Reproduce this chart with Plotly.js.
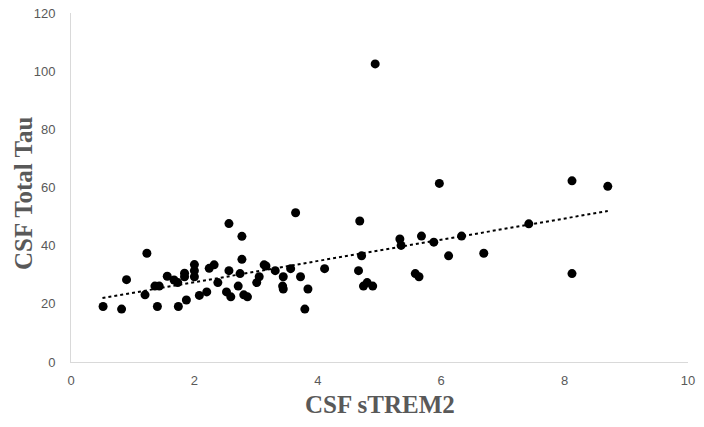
<!DOCTYPE html>
<html>
<head>
<meta charset="utf-8">
<script src="https://cdn.plot.ly/plotly-3.0.1.min.js"></script>
<style>
  html, body { margin: 0; padding: 0; background: #fff; }
  #chart { width: 704px; height: 427px; }
</style>
</head>
<body>
<div id="chart"></div>
<script>
// CSF sTREM2 vs CSF Total Tau, one point per subject
var strem2 = [
  0.52, 0.82, 0.90, 1.23, 1.20, 1.36, 1.43, 1.40, 1.56, 1.67,
  1.73, 1.74, 1.84, 1.84, 1.87, 2.00, 2.00, 2.00, 2.08, 2.20,
  2.24, 2.32, 2.38, 2.52, 2.59, 2.56, 2.77, 2.77, 2.74, 2.71,
  2.80, 2.86, 3.01, 3.05, 3.13, 3.16, 3.31, 3.44, 3.43, 3.44,
  3.56, 3.72, 3.84, 3.79, 4.11, 4.66, 4.71, 4.74, 4.80, 4.89,
  5.33, 5.35, 5.58, 5.64, 5.68, 5.88, 6.12, 6.33, 8.12, 8.70,
  7.42, 6.69, 8.12, 4.93, 2.56, 3.64, 4.68, 5.97
];

var totalTau = [
  19.1, 18.2, 28.3, 37.4, 23.1, 26.1, 26.1, 19.1, 29.5, 28.2,
  27.3, 19.1, 30.5, 29.3, 21.3, 33.5, 31.4, 29.3, 22.9, 24.1,
  32.2, 33.4, 27.3, 24.1, 22.4, 31.4, 43.2, 35.3, 30.4, 26.1,
  23.1, 22.4, 27.3, 29.3, 33.4, 33.0, 31.4, 29.3, 26.1, 25.1,
  32.1, 29.3, 25.1, 18.2, 32.1, 31.4, 36.5, 26.1, 27.3, 26.1,
  42.3, 40.1, 30.4, 29.3, 43.3, 41.2, 36.5, 43.3, 62.3, 60.4,
  47.5, 37.4, 30.4, 102.5, 47.6, 51.3, 48.5, 61.4
];

// linear trendline ends, as drawn
var trendX = [0.51, 8.70];
var trendY = [22.0, 51.9];

var xTitle = 'CSF sTREM2';
var yTitle = 'CSF Total Tau';

var tickFont = { family: 'Liberation Sans, Arial, sans-serif', size: 13, color: '#595959' };
var titleFont = { family: 'Liberation Serif, Times New Roman, serif', size: 25, color: '#595959', weight: 'bold' };

var data = [
  {
    type: 'scatter',
    mode: 'markers',
    x: strem2,
    y: totalTau,
    marker: { color: '#000000', size: 9 },
    hoverinfo: 'x+y'
  },
  {
    type: 'scatter',
    mode: 'lines',
    x: trendX,
    y: trendY,
    line: { color: '#000000', width: 2, dash: 'dot' },
    hoverinfo: 'skip'
  }
];

var layout = {
  width: 704,
  height: 427,
  margin: { l: 71, r: 16, t: 13, b: 65 },
  paper_bgcolor: '#ffffff',
  plot_bgcolor: '#ffffff',
  showlegend: false,
  xaxis: {
    range: [0, 10],
    dtick: 2,
    showgrid: false,
    zeroline: false,
    showline: true,
    linecolor: '#d9d9d9',
    linewidth: 1,
    ticks: '',
    ticklabelstandoff: 6,
    tickfont: tickFont
  },
  yaxis: {
    range: [0, 120],
    dtick: 20,
    showgrid: false,
    zeroline: false,
    showline: true,
    linecolor: '#d9d9d9',
    linewidth: 1,
    ticks: '',
    ticklabelstandoff: 12,
    tickfont: tickFont
  },
  // axis titles placed as annotations so they sit where the original has them
  annotations: [
    {
      text: xTitle, font: titleFont, showarrow: false,
      xref: 'paper', yref: 'paper', x: 0.5, y: -0.122,
      xanchor: 'center', yanchor: 'middle'
    },
    {
      text: yTitle, font: titleFont, showarrow: false, textangle: -90,
      xref: 'paper', yref: 'paper', x: -0.078, y: 0.484,
      xanchor: 'center', yanchor: 'middle'
    }
  ]
};

Plotly.newPlot('chart', data, layout, { displayModeBar: false, staticPlot: true });
</script>
</body>
</html>
